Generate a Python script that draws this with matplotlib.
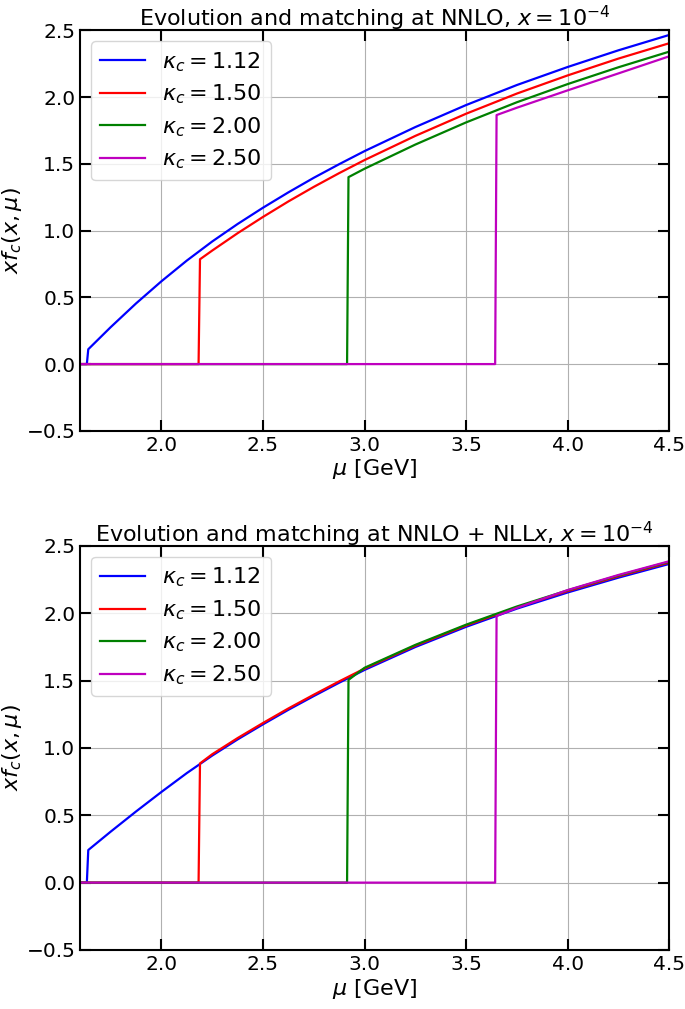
import matplotlib
matplotlib.use("Agg")
import matplotlib.pyplot as plt
import numpy as np

# values, mu in GeV
kappas = ["1.12", "1.50", "2.00", "2.50"]
colors = ["b", "r", "g", "m"]
mu_start = 1.6

# NNLO panel
mu_nnlo_112 = [1.633, 1.640, 1.75, 1.875, 2.0, 2.125, 2.25, 2.375, 2.5, 2.625, 2.75, 2.875,
               3.0, 3.25, 3.5, 3.75, 4.0, 4.25, 4.5]
f_nnlo_112 = [0.0, 0.111, 0.276, 0.454, 0.62, 0.775, 0.918, 1.049, 1.171, 1.286, 1.395, 1.497,
              1.595, 1.775, 1.94, 2.09, 2.225, 2.35, 2.465]
mu_nnlo_150 = [2.183, 2.190, 2.25, 2.375, 2.5, 2.625, 2.75, 2.875, 3.0, 3.25, 3.5, 3.75, 4.0, 4.25, 4.5]
f_nnlo_150 = [0.0, 0.785, 0.85, 0.98, 1.102, 1.218, 1.327, 1.43, 1.528, 1.709, 1.875, 2.026, 2.162, 2.288, 2.403]
mu_nnlo_200 = [2.914, 2.921, 3.0, 3.25, 3.5, 3.75, 4.0, 4.25, 4.5]
f_nnlo_200 = [0.0, 1.40, 1.463, 1.644, 1.81, 1.961, 2.097, 2.223, 2.34]
mu_nnlo_250 = [3.643, 3.650, 3.75, 4.0, 4.25, 4.5]
f_nnlo_250 = [0.0, 1.865, 1.92, 2.05, 2.177, 2.305]

# NNLO + NLLx panel
mu_nllx_112 = [1.633, 1.640, 1.75, 1.875, 2.0, 2.125, 2.25, 2.375, 2.5, 2.625, 2.75, 2.875,
               3.0, 3.25, 3.5, 3.75, 4.0, 4.25, 4.5]
f_nllx_112 = [0.0, 0.242, 0.378, 0.528, 0.673, 0.813, 0.943, 1.063, 1.175, 1.283, 1.385, 1.484,
              1.579, 1.749, 1.899, 2.034, 2.154, 2.264, 2.366]
mu_nllx_150 = [2.183, 2.190, 2.25, 2.375, 2.5, 2.625, 2.75, 2.875, 3.0, 3.25, 3.5, 3.75, 4.0, 4.25, 4.5]
f_nllx_150 = [0.0, 0.885, 0.953, 1.073, 1.185, 1.293, 1.395, 1.494, 1.589, 1.759, 1.909, 2.044, 2.164, 2.274, 2.376]
mu_nllx_200 = [2.914, 2.921, 3.0, 3.25, 3.5, 3.75, 4.0, 4.25, 4.5]
f_nllx_200 = [0.0, 1.505, 1.595, 1.765, 1.915, 2.05, 2.17, 2.28, 2.382]
mu_nllx_250 = [3.643, 3.650, 3.75, 4.0, 4.25, 4.5]
f_nllx_250 = [0.0, 1.98, 2.04, 2.172, 2.284, 2.386]

panels = [
    (r"Evolution and matching at NNLO, $x = 10^{-4}$",
     [(mu_nnlo_112, f_nnlo_112), (mu_nnlo_150, f_nnlo_150),
      (mu_nnlo_200, f_nnlo_200), (mu_nnlo_250, f_nnlo_250)]),
    (r"Evolution and matching at NNLO + NLL$x$, $x = 10^{-4}$",
     [(mu_nllx_112, f_nllx_112), (mu_nllx_150, f_nllx_150),
      (mu_nllx_200, f_nllx_200), (mu_nllx_250, f_nllx_250)]),
]

plt.rcParams["font.size"] = 14.5
fig = plt.figure(figsize=(6.85, 10.09), dpi=100)
boxes = [[0.117, 0.573, 0.860, 0.397], [0.117, 0.0585, 0.860, 0.4005]]

for box, (title, curves) in zip(boxes, panels):
    ax = fig.add_axes(box)
    for (mu, f), k, c in zip(curves, kappas, colors):
        ax.plot([mu_start] + mu, [0.0] + f, color=c, lw=1.6, label=r"$\kappa_c = %s$" % k)
    ax.set_xlim(1.6, 4.5)
    ax.set_ylim(-0.5, 2.5)
    ax.set_xticks([2.0, 2.5, 3.0, 3.5, 4.0, 4.5])
    ax.set_yticks(np.arange(-0.5, 2.51, 0.5))
    ax.tick_params(direction="in", length=8, width=1.5, top=True, right=True)
    for s in ax.spines.values():
        s.set_linewidth(1.5)
    ax.grid(True, color="#b0b0b0", lw=0.8)
    ax.set_title(title, fontsize=16, pad=3)
    ax.set_xlabel(r"$\mu$ [GeV]", fontsize=16, labelpad=2)
    ax.set_ylabel(r"$xf_c(x, \mu)$", fontsize=16)
    ax.yaxis.set_label_coords(-0.095, 0.5)
    ax.legend(loc="upper left", fontsize=16, labelspacing=0.4)

fig.savefig("out.png", dpi=100)
